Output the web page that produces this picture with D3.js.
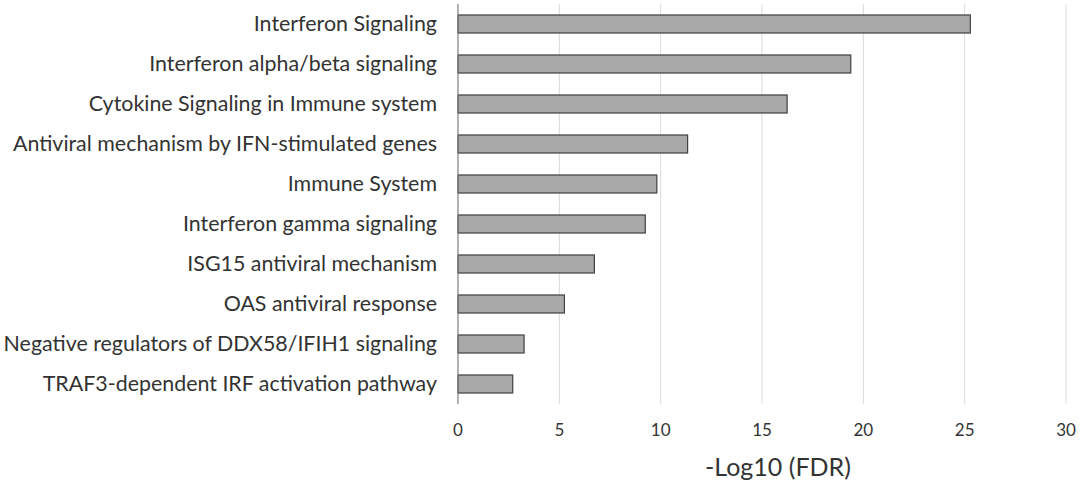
<!doctype html>
<html lang="en">
<head>
	<meta charset="UTF-8">
	<title>Reactome pathways -Log10 (FDR)</title>
	<style>
		body { margin: 0; background: #fff; }
		svg text { font-family: Lato, "Open Sans", sans-serif; fill: #333; }
	</style>
</head>
<body>
	<script src="https://cdn.jsdelivr.net/npm/d3@7"></script>
	<script>
		var pathways = [
			'Interferon Signaling',
			'Interferon alpha/beta signaling',
			'Cytokine Signaling in Immune system',
			'Antiviral mechanism by IFN-stimulated genes',
			'Immune System',
			'Interferon gamma signaling',
			'ISG15 antiviral mechanism',
			'OAS antiviral response',
			'Negative regulators of DDX58/IFIH1 signaling',
			'TRAF3-dependent IRF activation pathway'
		];
		var fdrValues = [25.28, 19.38, 16.24, 11.33, 9.81, 9.24, 6.73, 5.25, 3.26, 2.70];
		var xTicks = [0, 5, 10, 15, 20, 25, 30];
		var xTitle = '-Log10 (FDR)';

		var w = 1085,
			h = 486,
			plotLeft = 458,
			plotRight = 1066,
			plotTop = 4,
			plotBottom = 404;

		var svg = d3.select('body')
			.append('svg')
			.attr('width', w)
			.attr('height', h);

		var x = d3.scaleLinear()
			.domain([0, 30])
			.range([plotLeft, plotRight]);

		var y = d3.scaleBand()
			.domain(pathways)
			.range([plotTop, plotBottom])
			.paddingInner(0.55)
			.paddingOuter(0.275);

		// gridlines
		svg.append('g')
			.selectAll('line')
			.data(xTicks.slice(1))
			.enter()
			.append('line')
			.attr('x1', function(d) { return x(d); })
			.attr('x2', function(d) { return x(d); })
			.attr('y1', plotTop)
			.attr('y2', plotBottom)
			.attr('stroke', '#d9d9d9')
			.attr('stroke-width', 1);

		// bars
		svg.append('g')
			.selectAll('rect')
			.data(fdrValues)
			.enter()
			.append('rect')
			.attr('x', x(0))
			.attr('y', function(d, i) { return y(pathways[i]); })
			.attr('width', function(d) { return x(d) - x(0); })
			.attr('height', y.bandwidth())
			.attr('fill', '#a9a9a9')
			.attr('stroke', '#404040')
			.attr('stroke-width', 1.2);

		// vertical axis line
		svg.append('line')
			.attr('x1', x(0))
			.attr('x2', x(0))
			.attr('y1', plotTop)
			.attr('y2', plotBottom)
			.attr('stroke', '#7f7f7f')
			.attr('stroke-width', 1.2);

		// category labels
		svg.append('g')
			.selectAll('text')
			.data(pathways)
			.enter()
			.append('text')
			.attr('x', 437)
			.attr('y', function(d) { return y(d) + y.bandwidth() / 2; })
			.attr('dy', '0.35em')
			.attr('text-anchor', 'end')
			.style('font-size', '21.4px')
			.text(function(d) { return d; });

		// x tick labels
		svg.append('g')
			.selectAll('text')
			.data(xTicks)
			.enter()
			.append('text')
			.attr('x', function(d) { return x(d); })
			.attr('y', 436)
			.attr('text-anchor', 'middle')
			.style('font-size', '17px')
			.text(function(d) { return d; });

		svg.append('text')
			.attr('x', 778)
			.attr('y', 476)
			.attr('text-anchor', 'middle')
			.style('font-size', '25px')
			.text(xTitle);
	</script>
</body>
</html>
